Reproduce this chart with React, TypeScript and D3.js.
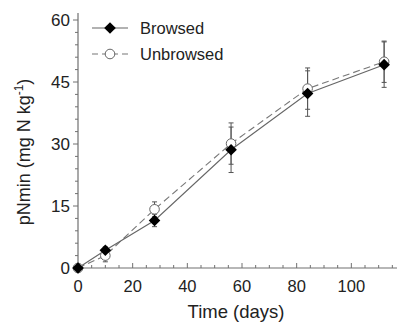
import React from "react";
import * as d3 from "d3";

const days = [0, 10, 28, 56, 84, 112];
const browsed = [0, 4.3, 11.5, 28.6, 42.2, 49.2];
const browsedErr = [0, 0.8, 1.5, 5.5, 5.5, 5.5];
const unbrowsed = [0, 3.0, 14.2, 30.1, 43.4, 49.9];
const unbrowsedErr = [0, 1.5, 1.8, 5, 5, 5];
const xTicks = [0, 20, 40, 60, 80, 100];
const yTicks = [0, 15, 30, 45, 60];

const W = 397, H = 323;
const x = d3.scaleLinear().domain([0, 117]).range([78, 397.8]);
const y = d3.scaleLinear().domain([0, 60]).range([268, 20]);
const AX = "#707070";
const FONT = "Liberation Sans, Arial, sans-serif";

export default function App() {
  const bPath = d3.line<number>().x((_, i) => x(days[i])).y((v) => y(v))(browsed) as string;
  const uPath = d3.line<number>().x((_, i) => x(days[i])).y((v) => y(v))(unbrowsed) as string;
  const xMinor = d3.range(0, 116, 5);
  const yMinor = d3.range(0, 61, 3);
  const diamond = (cx: number, cy: number, r: number) =>
    `M${cx},${cy - r}L${cx + r},${cy}L${cx},${cy + r}L${cx - r},${cy}Z`;
  const errBar = (i: number, v: number[], e: number[], key: string) => {
    if (e[i] === 0) return null;
    const cx = x(days[i]);
    const t = y(v[i] + e[i]), b = y(v[i] - e[i]);
    return (
      <g key={key} stroke="#555" strokeWidth={1}>
        <line x1={cx} x2={cx} y1={t} y2={b} />
        <line x1={cx - 2.5} x2={cx + 2.5} y1={t} y2={t} />
        <line x1={cx - 2.5} x2={cx + 2.5} y1={b} y2={b} />
      </g>
    );
  };
  return (
    <svg width={W} height={H} style={{ position: "absolute", left: 0, top: 0 }} fontFamily={FONT}>
      <rect width={W} height={H} fill="#fff" />
      <line x1={x(0)} x2={x(0)} y1={y(0)} y2={13} stroke={AX} strokeWidth={1.2} />
      <line x1={x(0)} x2={397} y1={y(0)} y2={y(0)} stroke={AX} strokeWidth={1.2} />
      {yMinor.map((t) => (
        <line key={"ym" + t} x1={x(0) - (t % 15 === 0 ? 5 : 3)} x2={x(0)} y1={y(t)} y2={y(t)} stroke={AX} strokeWidth={1} />
      ))}
      {xMinor.map((t) => (
        <line key={"xm" + t} x1={x(t)} x2={x(t)} y1={y(0)} y2={y(0) - (t % 20 === 0 ? 5 : 3)} stroke={AX} strokeWidth={1} />
      ))}
      {yTicks.map((t) => (
        <text key={"yl" + t} x={70} y={y(t) + 6} textAnchor="end" fontSize={17} fill="#222">{t}</text>
      ))}
      {xTicks.map((t) => (
        <text key={"xl" + t} x={x(t)} y={291.5} textAnchor="middle" fontSize={16.5} fill="#222">{t}</text>
      ))}
      <text x={236} y={318} textAnchor="middle" fontSize={18.5} fill="#222">Time (days)</text>
      <text transform="translate(30,152) rotate(-90)" textAnchor="middle" fontSize={18} fill="#222">
        pNmin (mg N kg<tspan fontSize={12} dy={-7}>-1</tspan><tspan dy={7}>)</tspan>
      </text>
      <path d={uPath} fill="none" stroke="#777" strokeWidth={1.1} strokeDasharray="7,4" />
      <path d={bPath} fill="none" stroke="#666" strokeWidth={1.1} />
      {days.map((_, i) => errBar(i, unbrowsed, unbrowsedErr, "ue" + i))}
      {days.map((_, i) => errBar(i, browsed, browsedErr, "be" + i))}
      {days.map((d, i) => (
        <circle key={"uc" + i} cx={x(d)} cy={y(unbrowsed[i])} r={4.8} fill="#fff" stroke="#666" strokeWidth={1} />
      ))}
      {days.map((d, i) => (
        <path key={"bd" + i} d={diamond(x(d), y(browsed[i]), 5.8)} fill="#000" />
      ))}
      <line x1={92} x2={128} y1={28} y2={28} stroke="#666" strokeWidth={1.1} />
      <path d={diamond(110, 28, 5.8)} fill="#000" />
      <text x={140} y={34} fontSize={16.5} fill="#222">Browsed</text>
      <line x1={92} x2={128} y1={54} y2={54} stroke="#777" strokeWidth={1.1} strokeDasharray="6,4" />
      <circle cx={110} cy={54} r={4.8} fill="#fff" stroke="#666" strokeWidth={1} />
      <text x={140} y={60} fontSize={16.5} fill="#222">Unbrowsed</text>
    </svg>
  );
}
